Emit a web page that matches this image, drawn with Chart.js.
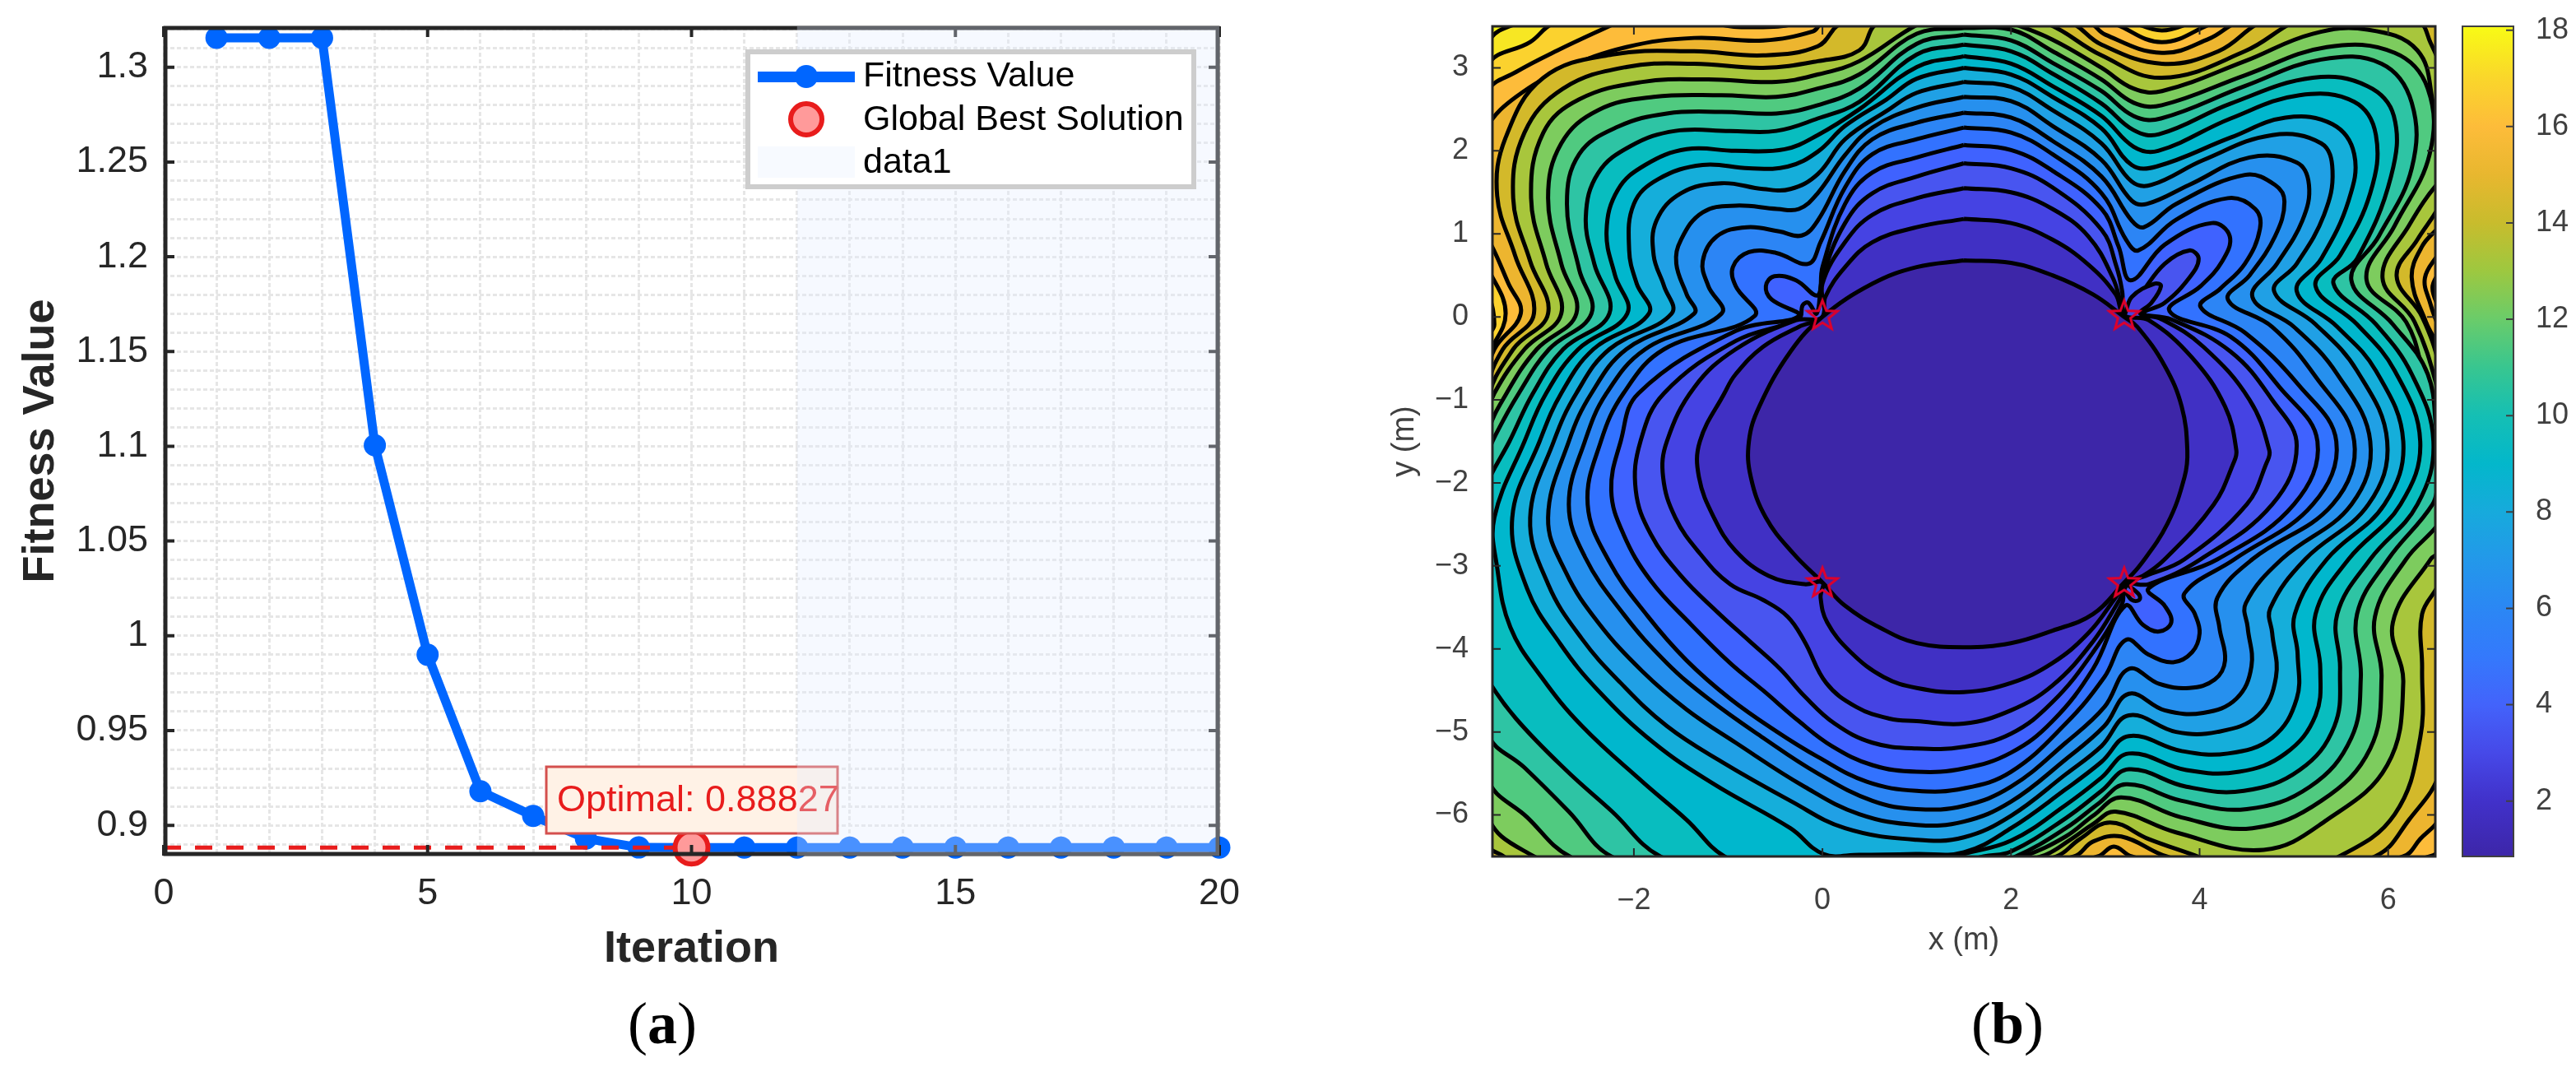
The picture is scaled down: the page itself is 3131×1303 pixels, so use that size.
<!DOCTYPE html>
<html>
<head>
<meta charset="utf-8">
<style>
  html, body { margin: 0; background: #fff; }
  canvas { position: absolute; top: 0; }
</style>
<script src="https://cdn.jsdelivr.net/npm/chart.js@4"></script>
</head>
<body>
<canvas id="fitnessChart" width="1560" height="1303" style="left:0"></canvas>
<canvas id="contourChart" width="1420" height="1303" style="left:1560px"></canvas>
<canvas id="barChart" width="151" height="1303" style="left:2980px"></canvas>
<script>
// Panel (a) data
const iterations = [1, 2, 3, 4, 5, 6, 7, 8, 9, 10, 11, 12, 13, 14, 15, 16, 17, 18, 19, 20];
const fitnessValues = [1.3155, 1.3155, 1.3155, 1.1005, 0.99, 0.918, 0.905, 0.893, 0.8883, 0.88827, 0.88827, 0.88827, 0.88827, 0.88827, 0.88827, 0.88827, 0.88827, 0.88827, 0.88827, 0.88827];
const bestIteration = [10];
const bestFitness = [0.88827];
const optimalLineX = [0, 10];
const shadeX = [12, 20, 20, 12];
const shadeY = [0.884, 0.884, 1.3216, 1.3216];
const fitnessTicks = [0.9, 0.95, 1, 1.05, 1.1, 1.15, 1.2, 1.25, 1.3];
const fitnessTickLabels = ["0.9", "0.95", "1", "1.05", "1.1", "1.15", "1.2", "1.25", "1.3"];
const fitnessGrid = [0.89, 0.9, 0.91, 0.92, 0.93, 0.94, 0.95, 0.96, 0.97, 0.98, 0.99, 1, 1.01, 1.02, 1.03, 1.04, 1.05, 1.06, 1.07, 1.08, 1.09, 1.1, 1.11, 1.12, 1.13, 1.14, 1.15, 1.16, 1.17, 1.18, 1.19, 1.2, 1.21, 1.22, 1.23, 1.24, 1.25, 1.26, 1.27, 1.28, 1.29, 1.3, 1.31, 1.32];
const iterationTicks = [0, 5, 10, 15, 20];
const iterationGrid = [0, 1, 2, 3, 4, 5, 6, 7, 8, 9, 10, 11, 12, 13, 14, 15, 16, 17, 18, 19, 20];

const anchorX = [0, 3.2, 0, 3.2];
const anchorY = [0.02, 0.02, -3.2, -3.2];
const xAxisTicks = [-2, 0, 2, 4, 6];
const xAxisLabels = ["\u22122", "0", "2", "4", "6"];
const yAxisTicks = [-6, -5, -4, -3, -2, -1, 0, 1, 2, 3];
const yAxisLabels = ["\u22126", "\u22125", "\u22124", "\u22123", "\u22122", "\u22121", "0", "1", "2", "3"];
const barTicks = [2, 4, 6, 8, 10, 12, 14, 16, 18];
const barValues = [0.85, 2, 3, 4, 5, 6, 7, 8, 9, 10, 11, 12, 13, 14, 15, 16, 17, 18.08];
const barColors = ["#3D26A8", "#4131CA", "#4649E8", "#4363FB", "#3479FC", "#2B87F4", "#2398EA", "#17AADC", "#03B7CB", "#15BFB4", "#38C690", "#6ACC6A", "#9DC840", "#C8BC2D", "#E8B72F", "#FDBC3A", "#FAD62B", "#F8FB15"];
const bandColors = ["#3D26A8", "#4030C4", "#4543E3", "#4855F0", "#3F62FF", "#3272FF", "#2C85F5", "#2690EE", "#20A0E5", "#15AEDA", "#00B7CD", "#08BDBF", "#2EC4A4", "#50CA80", "#7DCC5E", "#A8C63C", "#D3B92A", "#EDB52F", "#FDBC3A", "#FBD22E", "#F7E723", "#F8F817"];

const level0 = [1.5,.68, 2,.65, 2.44,.5, 2.87,.27, 3.2,0, 3.34,-.12, 3.63,-.59, 3.81,-1.08, 3.87,-1.61, 3.84,-1.93, 3.66,-2.49, 3.37,-2.99, 3.2,-3.2, 2.87,-3.58, 2.44,-3.78, 2,-3.93, 1.5,-3.98, 1,-3.93, .62,-3.75, .24,-3.48, 0,-3.2, -.31,-2.85, -.6,-2.42, -.76,-1.93, -.78,-1.5, -.67,-1.08, -.34,-.42, 0,0, .53,.4, 1,.6];
const level1 = [1.5,1.18, 2,1.13, 2.44,.93, 2.82,.63, 3.11,.27, 3.2,.02, 3.46,-.04, 3.92,-.49, 4.27,-1.08, 4.39,-1.61, 4.36,-1.76, 4.15,-2.26, 3.63,-2.92, 3.4,-3.12, 3.22,-3.2, 3.11,-3.38, 2.82,-3.81, 2.44,-4.17, 2,-4.41, 1.5,-4.52, 1,-4.47, .65,-4.34, .3,-4.04, .05,-3.68, -.02,-3.38, 0,-3.2, -.19,-3.22, -.57,-3.12, -.92,-2.82, -1.15,-2.42, -1.31,-1.93, -1.3,-1.5, -1.04,-.92, -.92,-.69, -.63,-.36, -.25,-.12, 0,0, .03,.24, .24,.6, .53,.9, 1,1.08];
const level2 = [1.5,1.55, 2,1.5, 2.44,1.3, 2.82,.97, 3.08,.47, 3.17,.14, 3.2,.02, 3.28,.24, 3.52,.4, 3.59,.37, 3.49,.17, 3.37,.04, 3.6,-.03, 4.04,-.36, 4.53,-1, 4.74,-1.61, 4.71,-1.76, 4.5,-2.26, 3.84,-2.92, 3.43,-3.12, 3.25,-3.2, 3.15,-3.41, 2.87,-3.91, 2.44,-4.44, 2,-4.74, 1.5,-4.9, 1,-4.87, .71,-4.84, .36,-4.7, .04,-4.41, -.19,-3.91, -.37,-3.61, -.63,-3.41, -.98,-3.22, -1.3,-2.85, -1.56,-2.42, -1.69,-1.93, -1.65,-1.5, -1.36,-.85, -.92,-.39, -.28,-.04, 0,0, 0,.4, .24,.9, .53,1.23, 1,1.43];
const level3 = [1.5,1.85, 2,1.79, 2.44,1.56, 2.96,1.05, 3.12,.6, 3.18,.3, 3.2,.05, 3.37,.27, 3.63,.64, 3.89,.8, 3.99,.7, 3.89,.47, 3.63,.17, 3.4,.04, 3.7,-.03, 4.33,-.42, 4.77,-1, 5.03,-1.55, 4.77,-2.26, 4.01,-2.92, 3.46,-3.22, 3.25,-3.22, 3.36,-3.35, 3.36,-3.41, 3.28,-3.41, 3.2,-3.3, 3.18,-3.45, 2.87,-4.04, 2.44,-4.64, 2,-5.02, 1.5,-5.18, 1,-5.2, .53,-5.13, .13,-4.9, -.19,-4.57, -.45,-4.24, -.77,-3.91, -1.12,-3.55, -1.5,-3.12, -1.82,-2.62, -1.98,-2.09, -1.93,-1.5, -1.68,-.92, -.92,-.29, -.25,-.02, -.21,.14, -.15,.17, -.06,.04, 0,.47, .24,1.13, .53,1.49, 1,1.69];
const level4 = [1.5,2.07, 2,2.01, 2.44,1.76, 2.96,1.3, 3.14,.85, 3.27,.44, 3.63,.87, 4.13,1.13, 4.32,.97, 4.24,.67, 4.01,.37, 3.68,.07, 4.33,-.24, 4.85,-.85, 5.25,-1.5, 5,-2.26, 4.19,-2.92, 3.46,-3.27, 3.63,-3.48, 3.7,-3.68, 3.57,-3.79, 3.4,-3.71, 3.21,-3.48, 2.87,-4.24, 2.44,-4.87, 2,-5.25, 1.5,-5.44, 1,-5.48, .53,-5.4, .1,-5.17, -.25,-4.87, -.63,-4.5, -.98,-4.17, -1.39,-3.71, -1.82,-3.18, -2.11,-2.62, -2.24,-2.09, -2.14,-1.5, -1.95,-.92, -.92,-.17, -.25,.01, -.54,.21, -.6,.37, -.51,.49, -.28,.44, -.05,.26, 0,.6, .24,1.36, .53,1.74, 1,1.92];
const level5 = [1.5,2.28, 2,2.22, 2.44,1.96, 2.96,1.49, 3.22,.93, 3.35,.8, 3.75,1.17, 4.3,1.43, 4.59,1.3, 4.64,1.06, 4.48,.64, 4.22,.34, 4.01,.12, 4.48,-.19, 5.05,-.82, 5.45,-1.5, 5.2,-2.26, 4.37,-2.92, 3.84,-3.33, 3.95,-3.58, 4,-3.81, 3.92,-4.04, 3.72,-4.16, 3.46,-4.07, 3.22,-3.89, 2.99,-4.34, 2.58,-4.9, 2,-5.48, 1.5,-5.68, 1,-5.71, .47,-5.6, -.05,-5.3, -.48,-5, -.98,-4.6, -1.44,-4.14, -1.85,-3.61, -2.26,-2.95, -2.49,-2.26, -2.35,-1.5, -2.11,-.92, -1.68,-.39, -.72,.01, -.92,.37, -.95,.6, -.78,.78, -.49,.77, -.15,.64, -.02,.9, .24,1.56, .53,1.96, 1,2.14];
const level6 = [1.5,2.46, 2,2.4, 2.44,2.12, 2.96,1.69, 3.28,1.16, 3.41,1.08, 3.75,1.36, 4.48,1.71, 4.8,1.59, 4.9,1.39, 4.8,.97, 4.53,.5, 4.3,.21, 4.77,-.12, 5.23,-.72, 5.64,-1.5, 5.41,-2.26, 4.56,-2.92, 4.19,-3.38, 4.21,-3.74, 4.27,-4.14, 4.16,-4.37, 3.89,-4.47, 3.57,-4.42, 3.25,-4.24, 2.99,-4.7, 2.58,-5.13, 2,-5.66, 1.5,-5.89, 1,-5.93, .53,-5.83, -.05,-5.5, -.63,-5.07, -1.21,-4.6, -1.65,-4.17, -2.11,-3.58, -2.52,-2.89, -2.69,-2.26, -2.52,-1.5, -2.29,-.92, -1.88,-.39, -1.07,.04, -1.21,.37, -1.27,.67, -1.12,.97, -.8,1.08, -.46,1.03, -.22,.98, -.05,1.16, .24,1.76, .53,2.14, 1,2.34];
const level7 = [1.5,2.65, 2,2.6, 2.44,2.3, 2.96,1.89, 3.28,1.4, 3.44,1.36, 3.89,1.59, 4.53,1.92, 5.03,1.86, 5.16,1.59, 5.09,1.16, 4.82,.64, 4.56,.24, 5,-.12, 5.46,-.69, 5.81,-1.5, 5.61,-2.26, 4.87,-2.92, 4.49,-3.45, 4.51,-3.74, 4.55,-4.21, 4.39,-4.6, 4.04,-4.77, 3.63,-4.74, 3.25,-4.54, 2.99,-4.93, 2.58,-5.33, 2,-5.84, 1.5,-6.08, 1,-6.12, .39,-5.99, -.19,-5.66, -.92,-5.13, -1.44,-4.73, -1.91,-4.27, -2.38,-3.68, -2.72,-3.08, -2.91,-2.42, -2.69,-1.5, -2.45,-.92, -2.08,-.39, -1.36,.04, -1.44,.27, -1.55,.64, -1.5,.93, -1.27,1.26, -.92,1.34, -.48,1.3, -.25,1.3, -.05,1.49, .24,1.95, .53,2.28, 1,2.52];
const level8 = [1.5,2.83, 2,2.77, 2.44,2.49, 2.96,2.09, 3.28,1.63, 3.49,1.59, 4.04,1.89, 4.77,2.19, 5.29,2.09, 5.41,1.76, 5.32,1.23, 5.03,.64, 4.79,.31, 5.23,-.09, 5.67,-.65, 5.99,-1.5, 5.79,-2.26, 5.12,-2.92, 4.75,-3.51, 4.77,-3.81, 4.81,-4.34, 4.62,-4.8, 4.19,-5, 3.75,-5, 3.25,-4.8, 2.96,-5.17, 2.58,-5.51, 2,-6.01, 1.5,-6.27, 1,-6.3, .24,-6.16, -.34,-5.83, -1.07,-5.36, -1.65,-4.93, -2.14,-4.41, -2.55,-3.88, -2.91,-3.22, -3.1,-2.42, -2.85,-1.5, -2.61,-.92, -2.26,-.39, -1.6,.04, -1.68,.37, -1.79,.74, -1.76,1.16, -1.5,1.49, -1.07,1.61, -.63,1.54, -.34,1.54, -.05,1.72, .24,2.14, .68,2.48, 1,2.7];
const level9 = [1.5,3, 2,2.92, 2.44,2.65, 2.96,2.27, 3.28,1.83, 3.54,1.81, 4.33,2.16, 4.91,2.4, 5.41,2.32, 5.64,1.96, 5.58,1.4, 5.29,.7, 5.03,.31, 5.46,-.12, 5.87,-.65, 6.16,-1.5, 5.96,-2.26, 5.35,-2.92, 5.01,-3.58, 5.04,-4.07, 5.03,-4.6, 4.77,-5.07, 4.3,-5.26, 3.81,-5.23, 3.25,-5.05, 2.96,-5.36, 2.58,-5.69, 2,-6.16, 1.5,-6.45, 1,-6.47, .39,-6.48, .01,-6.47, -.34,-6.16, -1.15,-5.63, -1.79,-5.13, -2.38,-4.5, -2.78,-3.94, -3.13,-3.28, -3.29,-2.42, -3,-1.5, -2.77,-.92, -2.43,-.39, -1.84,.04, -1.97,.4, -2.05,.8, -2,1.36, -1.74,1.66, -1.27,1.83, -.78,1.79, -.37,1.81, -.05,1.99, .24,2.3, .68,2.62, 1,2.87];
const level10 = [1.5,3.14, 2,3.05, 2.44,2.78, 2.96,2.42, 3.3,2.05, 3.56,2, 4.33,2.39, 5.06,2.67, 5.64,2.59, 5.87,2.19, 5.81,1.49, 5.49,.74, 5.23,.37, 5.67,-.09, 6.07,-.65, 6.34,-1.5, 6.13,-2.26, 5.58,-2.92, 5.23,-3.58, 5.28,-4.24, 5.23,-4.8, 4.91,-5.26, 4.42,-5.48, 3.86,-5.46, 3.25,-5.26, 2.96,-5.55, 2.58,-5.88, 2,-6.31, 1.41,-6.5, 1,-6.7, -.5,-6.7, -1.04,-6.5, -1.44,-6.06, -1.91,-5.6, -2.55,-4.93, -2.98,-4.34, -3.31,-3.74, -3.45,-3.02, -3.48,-2.42, -3.16,-1.5, -2.93,-.92, -2.59,-.39, -2.07,.04, -2.2,.5, -2.29,1.03, -2.17,1.53, -1.88,1.83, -1.44,2.02, -.92,2, -.4,2.02, -.05,2.19, .39,2.5, 1,3.01];
const level11 = [1.5,3.28, 2,3.2, 2.44,2.93, 2.96,2.57, 3.3,2.25, 3.57,2.2, 4.33,2.57, 5.2,2.88, 5.78,2.78, 6.06,2.42, 6.03,1.69, 5.67,.7, 5.42,.4, 5.87,-.09, 6.25,-.69, 6.48,-1.5, 6.31,-2.26, 5.81,-2.92, 5.46,-3.58, 5.49,-4.24, 5.43,-4.93, 5.06,-5.46, 4.47,-5.71, 3.86,-5.66, 3.25,-5.45, 2.96,-5.71, 2.58,-6.04, 2,-6.44, 1.71,-6.5, 1,-6.7, -1,-6.7, -1.72,-6.5, -2.23,-5.96, -2.72,-5.46, -3.25,-4.84, -3.55,-4.37, -3.7,-4, -3.7,-2.5, -3.55,-1.99, -3.32,-1.5, -3.07,-.92, -2.75,-.39, -2.26,.04, -2.42,.64, -2.51,1.2, -2.38,1.73, -2.03,2.06, -1.56,2.24, -.98,2.24, -.49,2.24, -.05,2.39, .39,2.59, 1,3.16];
const level12 = [1.5,3.4, 2,3.33, 2.44,3.06, 2.96,2.72, 3.3,2.42, 3.59,2.39, 4.48,2.78, 5.29,3.1, 5.93,3.05, 6.25,2.58, 6.25,1.79, 5.9,.97, 5.61,.44, 6.05,-.09, 6.42,-.69, 6.55,-1.55, 6.7,-1.7, 6.55,-1.94, 6.47,-2.26, 6,-2.92, 5.67,-3.58, 5.71,-4.34, 5.61,-5.07, 5.17,-5.66, 4.5,-5.93, 3.81,-5.83, 3.22,-5.63, 2.93,-5.86, 2.58,-6.16, 2.05,-6.5, 1.5,-6.7, -1.5,-6.7, -2.24,-6.5, -2.69,-5.96, -3.16,-5.43, -3.55,-5.03, -3.7,-4, -3.7,-2.5, -3.55,-1.66, -3.47,-1.43, -3.22,-.92, -2.9,-.39, -2.45,.04, -2.58,.57, -2.71,1.36, -2.58,1.96, -2.17,2.29, -1.65,2.45, -1.07,2.47, -.49,2.45, -.05,2.55, .39,2.75, 1,3.29];
const level13 = [1.5,3.48, 2,3.46, 2.44,3.2, 2.96,2.86, 3.3,2.58, 3.6,2.55, 4.48,2.91, 5.35,3.25, 6.07,3.18, 6.42,2.75, 6.44,1.96, 6.07,1.1, 5.77,.45, 6.19,-.06, 6.38,-.7, 6.55,-1.38, 6.75,-2, 6.55,-2.47, 6.19,-2.92, 5.86,-3.61, 5.93,-4.34, 5.81,-5.2, 5.29,-5.83, 4.56,-6.16, 3.81,-6.03, 3.17,-5.79, 2.87,-6.01, 2.58,-6.26, 2.13,-6.5, 1.5,-6.7, -2,-6.7, -2.68,-6.5, -3.13,-6.03, -3.55,-5.56, -3.7,-4, -3.7,-2.5, -3.55,-1.41, -3.35,-.92, -3.03,-.39, -2.61,.04, -2.77,.64, -2.91,1.43, -2.77,2.09, -2.38,2.49, -1.79,2.65, -1.07,2.67, -.49,2.65, -.05,2.75, .39,2.92, 1,3.41];
const level14 = [1.5,3.7, 2,3.54, 2.44,3.34, 2.96,3, 3.3,2.75, 3.6,2.72, 4.48,3.08, 5.2,3.41, 5.78,3.46, 6.31,3.21, 6.48,2.55, 6.55,1.99, 6.75,1.8, 6.55,1.64, 6.22,1.1, 5.94,.47, 6.28,-.06, 6.55,-.98, 6.75,-2, 6.55,-2.82, 6.45,-2.92, 6.05,-3.68, 6.16,-4.41, 5.99,-5.4, 5.35,-6.06, 4.68,-6.42, 3.75,-6.21, 3.11,-5.96, 2.87,-6.11, 2.64,-6.29, 2.32,-6.5, 1.5,-6.7, -2.5,-6.7, -3.06,-6.5, -3.55,-6, -3.7,-4, -3.7,-2, -3.55,-1.2, -3.48,-.92, -3.16,-.39, -2.77,.04, -2.93,.64, -3.09,1.43, -2.96,2.22, -2.58,2.62, -1.91,2.83, -1.21,2.86, -.49,2.83, -.05,2.92, .39,3.08, 1.04,3.54];
const level15 = [1.5,3.8, 2.37,3.54, 2.96,3.15, 3.6,2.88, 4.48,3.2, 4.99,3.55, 5.5,3.8, 6.32,3.56, 6.45,3.3, 6.55,3.03, 6.8,2, 6.55,1.35, 6.31,.93, 6.09,.49, 6.36,0, 6.55,-.62, 6.8,-2, 6.55,-3.18, 6.36,-3.58, 6.36,-4.24, 6.34,-5.07, 6.07,-5.99, 5.48,-6.5, 4.7,-6.8, 3.98,-6.5, 3.46,-6.29, 3.05,-6.09, 2.73,-6.29, 2.48,-6.5, 1.5,-6.8, -3,-6.8, -3.38,-6.5, -3.55,-6.35, -3.8,-4, -3.55,-1.03, -3.28,-.39, -2.91,.04, -3.1,.67, -3.28,1.43, -3.16,2.22, -2.75,2.75, -2.08,3.01, -1.36,3.05, -.63,3, -.05,3.08, .39,3.21, .59,3.54];
const level16 = [1.5,3.9, 2.61,3.56, 2.96,3.28, 3.6,3.05, 4.2,3.2, 4.66,3.56, 5.5,3.9, 6.8,3.5, 6.8,1.5, 6.55,1.1, 6.36,.85, 6.25,.47, 6.4,-.06, 6.55,-.43, 6.8,-2, 6.8,-4, 6.55,-5.48, 6.22,-6.06, 5.86,-6.5, 4.7,-6.8, 3.65,-6.5, 3.17,-6.26, 2.87,-6.32, 2.67,-6.5, 1.5,-6.8, -3.8,-6.8, -3.8,-4, -3.55,-.88, -3.39,-.39, -3.06,.04, -3.26,.74, -3.45,1.46, -3.36,2.16, -2.96,2.88, -2.23,3.16, -1.36,3.2, -.63,3.15, -.05,3.26, .21,3.54];
const level17 = [1.5,3.9, 2.81,3.56, 3,3.4, 3.6,3.18, 4.1,3.35, 4.42,3.56, 5.5,3.9, 6.8,3.9, 6.8,1.5, 6.55,.8, 6.39,.47, 6.45,.15, 6.55,-.21, 6.8,-2, 6.8,-5, 6.55,-6.02, 6.34,-6.29, 6.16,-6.5, 4.7,-6.9, 3.28,-6.5, 3.09,-6.38, 2.92,-6.5, 1.5,-6.9, -3.9,-6.9, -3.9,-4, -3.55,-.72, -3.48,-.39, -3.2,.04, -3.33,.4, -3.55,.95, -3.9,1.6, -3.55,2.31, -3.25,2.65, -2.75,2.98, -2.08,3.25, -1.36,3.36, -.63,3.33, -.1,3.44, 0,3.54];
const level18 = [1.5,3.9, 3.02,3.56, 3.6,3.31, 4.2,3.56, 5.5,3.9, 6.8,3.9, 6.8,1.5, 6.55,.57, 6.47,.35, 6.55,.04, 6.8,-2, 6.8,-6, 6.55,-6.43, 6.44,-6.5, 5,-6.9, -3.9,-6.9, -3.9,-3, -3.55,-.52, -3.36,.04, -3.55,.6, -3.9,1.6, -3.55,2.72, -3.25,2.95, -2.81,3.21, -2.19,3.54, -1.7,3.8, -1.15,3.54, -.7,3.49, -.25,3.54, .5,3.8];
const level19 = [1.5,3.9, 3.24,3.56, 3.6,3.45, 3.97,3.56, 5.5,3.9, 6.9,3.9, 6.9,-6.9, -3.9,-6.9, -3.9,-2, -3.55,-.25, -3.48,-.09, -3.55,.32, -3.9,1.6, -3.55,3.03, -3.1,3.31, -2.84,3.54, -1.5,3.9];
const level20 = [6.9,3.9, 6.9,-6.9, -3.9,-6.9, -3.9,2, -3.55,3.3, -3.22,3.54, -2,3.9];
const fullFrame = [-4,4, 7,4, 7,-7, -4,-7];
const levels = [level0, level1, level2, level3, level4, level5, level6, level7, level8, level9, level10, level11, level12, level13, level14, level15, level16, level17, level18, level19, level20, fullFrame];

const DARK = "#262626";
const GRAY = "#404040";
const RED = "#E81C1C";
const BLUE = "#0066FF";
const SANS = "'Liberation Sans', Arial, sans-serif";
const SERIF = "'Liberation Serif', serif";

Chart.defaults.animation = false;
Chart.defaults.events = [];
Chart.defaults.plugins.legend.display = false;
Chart.defaults.plugins.tooltip.enabled = false;

function toPoints(flat) {
  const pts = [];
  for (let i = 0; i < flat.length; i += 2) pts.push({ x: flat[i], y: flat[i + 1] });
  pts.push({ x: flat[0], y: flat[1] });
  return pts;
}

// the tick labels must not push the plot area inwards
function fixScale(s, size) {
  if (s.isHorizontal()) s.height = size; else s.width = size;
  s.paddingTop = s.paddingBottom = s.paddingLeft = s.paddingRight = 0;
}

// "(a)" with a regular bracket and a bold letter
function drawPanelLabel(ctx, cx, cy, letter) {
  ctx.save();
  ctx.fillStyle = "#000";
  ctx.textBaseline = "middle";
  ctx.textAlign = "left";
  const reg = "72px " + SERIF, bold = "bold 72px " + SERIF;
  ctx.font = reg;
  const pw = ctx.measureText("(").width;
  ctx.font = bold;
  const lw = ctx.measureText(letter).width;
  let x = cx - (2 * pw + lw) / 2;
  ctx.font = reg;
  ctx.fillText("(", x, cy);
  ctx.font = bold;
  ctx.fillText(letter, x + pw, cy);
  ctx.font = reg;
  ctx.fillText(")", x + pw + lw, cy);
  ctx.restore();
}

// Box with ticks pointing inwards, the way MATLAB axes look
function drawFrame(chart, lineWidth, tickLen, tickWidth, color, inset, xTicks, yTicks) {
  const { ctx, chartArea: a, scales } = chart;
  ctx.save();
  ctx.strokeStyle = color;
  ctx.lineWidth = lineWidth;
  ctx.strokeRect(a.left + inset, a.top + inset, a.right - a.left - 2 * inset, a.bottom - a.top - 2 * inset);
  ctx.lineWidth = tickWidth;
  ctx.beginPath();
  xTicks.forEach(v => {
    const x = scales.x.getPixelForValue(v);
    ctx.moveTo(x, a.top); ctx.lineTo(x, a.top + tickLen);
    ctx.moveTo(x, a.bottom); ctx.lineTo(x, a.bottom - tickLen);
  });
  yTicks.forEach(v => {
    const y = scales.y.getPixelForValue(v);
    ctx.moveTo(a.left, y); ctx.lineTo(a.left + tickLen, y);
    ctx.moveTo(a.right, y); ctx.lineTo(a.right - tickLen, y);
  });
  ctx.stroke();
  ctx.restore();
}

// Panel (a): frame and data tip sit just under the translucent shaded band (dataset 0)
const fitnessOverlay = {
  id: "fitnessOverlay",
  afterDatasetDraw(chart, args) {
    if (args.index !== 1) return;
    drawFrame(chart, 5, 13, 4, DARK, 2, iterationTicks, fitnessTicks);
    const { ctx } = chart;
    ctx.save();
    ctx.fillStyle = "#FFF2E6";
    ctx.strokeStyle = "#D4504E";
    ctx.lineWidth = 3;
    ctx.fillRect(664, 932, 354, 81);
    ctx.strokeRect(664, 932, 354, 81);
    ctx.fillStyle = RED;
    ctx.font = "45px " + SANS;
    ctx.textBaseline = "middle";
    ctx.fillText("Optimal: 0.88827", 677, 974);
    ctx.restore();
  },
  afterDraw(chart) {
    const { ctx } = chart;
    ctx.save();
    // legend box
    ctx.fillStyle = "#fff";
    ctx.strokeStyle = "#CDCDCD";
    ctx.lineWidth = 6;
    ctx.fillRect(909, 63, 542, 164);
    ctx.strokeRect(909, 63, 542, 164);
    ctx.fillStyle = BLUE;
    ctx.fillRect(921, 87, 118, 13);
    ctx.beginPath(); ctx.arc(980, 93, 14, 0, Math.PI * 2); ctx.fill();
    ctx.beginPath(); ctx.arc(980, 145, 19, 0, Math.PI * 2);
    ctx.fillStyle = "#FF9A9A"; ctx.fill();
    ctx.strokeStyle = RED; ctx.lineWidth = 6; ctx.stroke();
    ctx.fillStyle = "#F7FAFF";
    ctx.fillRect(921, 178, 118, 38);
    ctx.fillStyle = "#000";
    ctx.font = "43px " + SANS;
    ctx.textBaseline = "middle";
    ctx.fillText("Fitness Value", 1049, 93);
    ctx.fillText("Global Best Solution", 1049, 146);
    ctx.fillText("data1", 1049, 198);
    ctx.restore();
    drawPanelLabel(ctx, 805, 1249, "a");
  }
};

new Chart(document.getElementById("fitnessChart"), {
  type: "scatter",
  data: {
    datasets: [
      { // shaded band, drawn last of the four
        data: shadeX.map((x, i) => ({ x, y: shadeY[i] })),
        showLine: true, fill: "shape", backgroundColor: "rgba(228,235,255,0.32)",
        borderWidth: 0, pointRadius: 0
      },
      {
        label: "Global Best Solution",
        data: bestIteration.map((x, i) => ({ x, y: bestFitness[i] })),
        pointRadius: 20, pointBackgroundColor: "#FF9A9A", pointBorderColor: RED, pointBorderWidth: 6,
        clip: false
      },
      {
        data: optimalLineX.map(x => ({ x, y: bestFitness[0] })),
        showLine: true, borderColor: RED, borderWidth: 5, borderDash: [21, 17], pointRadius: 0
      },
      {
        label: "Fitness Value",
        data: iterations.map((x, i) => ({ x, y: fitnessValues[i] })),
        showLine: true, borderColor: BLUE, borderWidth: 11,
        pointRadius: 13.5, pointBackgroundColor: BLUE, pointBorderWidth: 0,
        clip: false
      }
    ]
  },
  options: {
    responsive: false,
    layout: { autoPadding: false, padding: { top: 32, right: 78 } },
    scales: {
      x: {
        min: 0, max: 20,
        afterFit: s => fixScale(s, 263),
        afterBuildTicks: s => { s.ticks = iterationGrid.map(value => ({ value })); },
        grid: { color: "#E6E6E6", lineWidth: 3, drawTicks: false },
        border: { display: false, dash: [5, 3] },
        ticks: {
          autoSkip: false, maxRotation: 0, padding: 20, color: DARK, font: { size: 45, family: SANS },
          callback: v => iterationTicks.includes(v) ? String(v) : ""
        },
        title: { display: true, text: "Iteration", color: DARK, font: { size: 54, weight: "bold", family: SANS }, padding: { top: 0, bottom: 116 } }
      },
      y: {
        min: 0.884, max: 1.3216,
        afterFit: s => fixScale(s, 199),
        afterBuildTicks: s => { s.ticks = fitnessGrid.map(value => ({ value })); },
        grid: { color: "#E6E6E6", lineWidth: 3, drawTicks: false },
        border: { display: false, dash: [5, 3] },
        ticks: {
          autoSkip: false, padding: 19, color: DARK, font: { size: 45, family: SANS },
          callback: v => {
            const i = fitnessTicks.indexOf(v);
            return i >= 0 ? fitnessTickLabels[i] : "";
          }
        },
        title: { display: true, text: "Fitness Value", color: DARK, font: { size: 54, weight: "bold", family: SANS }, padding: { top: 18, bottom: 0 } }
      }
    }
  },
  plugins: [fitnessOverlay]
});

// Panel (b)
function makeStar() {
  const c = document.createElement("canvas");
  c.width = c.height = 44;
  const g = c.getContext("2d");
  g.translate(22, 23);
  g.beginPath();
  for (let i = 0; i < 10; i++) {
    const r = i % 2 ? 8 : 19, t = -Math.PI / 2 + i * Math.PI / 5;
    g.lineTo(r * Math.cos(t), r * Math.sin(t));
  }
  g.closePath();
  g.strokeStyle = "#E0002A";
  g.lineWidth = 3;
  g.stroke();
  return c;
}

const contourOverlay = {
  id: "contourOverlay",
  afterDatasetsDraw(chart) {
    drawFrame(chart, 3, 10, 2, DARK, 0, xAxisTicks, yAxisTicks);
  },
  afterDraw(chart) {
    drawPanelLabel(chart.ctx, 880, 1249, "b");
  }
};

const contourSets = [{
  data: anchorX.map((x, i) => ({ x, y: anchorY[i] })),
  pointStyle: makeStar(), pointRadius: 19, clip: false
}];
levels.forEach((flat, i) => {
  contourSets.push({
    data: toPoints(flat),
    showLine: true, tension: 0.4, capBezierPoints: false, clip: 0,
    fill: "shape", backgroundColor: bandColors[i],
    borderColor: "#000", borderWidth: i === levels.length - 1 ? 0 : 5,
    borderJoinStyle: "round", pointRadius: 0
  });
});

new Chart(document.getElementById("contourChart"), {
  type: "scatter",
  data: { datasets: contourSets },
  options: {
    responsive: false,
    layout: { autoPadding: false, padding: { top: 32, right: 20 } },
    scales: {
      x: {
        min: -3.5, max: 6.5,
        afterFit: s => fixScale(s, 262),
        afterBuildTicks: s => { s.ticks = xAxisTicks.map(value => ({ value })); },
        grid: { display: false }, border: { display: false },
        ticks: {
          autoSkip: false, maxRotation: 0, padding: 24, color: GRAY, font: { size: 36, family: SANS },
          callback: v => xAxisLabels[xAxisTicks.indexOf(v)]
        },
        title: { display: true, text: "x (m)", color: GRAY, font: { size: 38, family: SANS }, padding: { top: 0, bottom: 137 } }
      },
      y: {
        min: -6.5, max: 3.5,
        afterFit: s => fixScale(s, 254),
        afterBuildTicks: s => { s.ticks = yAxisTicks.map(value => ({ value })); },
        grid: { display: false }, border: { display: false },
        ticks: {
          autoSkip: false, padding: 21, color: GRAY, font: { size: 36, family: SANS },
          callback: v => yAxisLabels[yAxisTicks.indexOf(v)]
        },
        title: { display: true, text: "y (m)", color: GRAY, font: { size: 38, family: SANS }, padding: { top: 125, bottom: 0 } }
      }
    }
  },
  plugins: [contourOverlay]
});

// Colour bar
const barOverlay = {
  id: "barOverlay",
  afterDatasetsDraw(chart) {
    const { ctx, chartArea: a, scales } = chart;
    ctx.save();
    ctx.strokeStyle = GRAY;
    ctx.lineWidth = 2;
    ctx.strokeRect(a.left, a.top, a.right - a.left, a.bottom - a.top);
    ctx.beginPath();
    barTicks.forEach(v => {
      const y = scales.y.getPixelForValue(v);
      ctx.moveTo(a.right, y); ctx.lineTo(a.right - 9, y);
    });
    ctx.stroke();
    ctx.restore();
  }
};

new Chart(document.getElementById("barChart"), {
  type: "bar",
  data: {
    labels: [""],
    datasets: [{
      data: [[barValues[0], barValues[barValues.length - 1]]],
      barPercentage: 1, categoryPercentage: 1,
      backgroundColor: c => {
        const { chartArea } = c.chart;
        if (!chartArea) return barColors[0];
        const g = c.chart.ctx.createLinearGradient(0, chartArea.bottom, 0, chartArea.top);
        const span = barValues[barValues.length - 1] - barValues[0];
        barValues.forEach((v, i) => g.addColorStop((v - barValues[0]) / span, barColors[i]));
        return g;
      }
    }]
  },
  options: {
    responsive: false,
    layout: { autoPadding: false, padding: { top: 32, left: 13, bottom: 262 } },
    scales: {
      x: { display: false },
      y: {
        position: "right", min: 0.85, max: 18.08,
        afterFit: s => fixScale(s, 76),
        afterBuildTicks: s => { s.ticks = barTicks.map(value => ({ value })); },
        grid: { display: false }, border: { display: false },
        ticks: { autoSkip: false, padding: 19, color: GRAY, font: { size: 36, family: SANS } }
      }
    }
  },
  plugins: [barOverlay]
});
</script>
</body>
</html>
